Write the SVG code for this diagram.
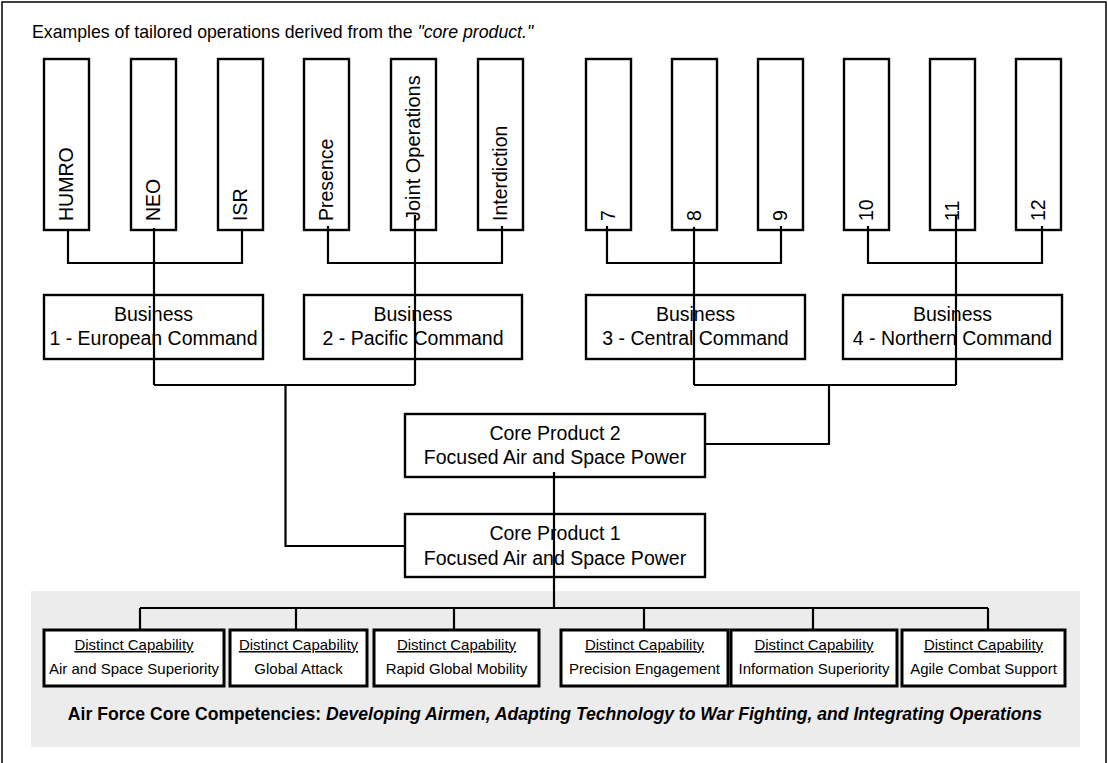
<svg xmlns="http://www.w3.org/2000/svg" width="1108" height="763" viewBox="0 0 1108 763">
<style>
text{font-family:"Liberation Sans",Arial,sans-serif;fill:#000}
.big{font-size:19.5px}
.mid{text-anchor:middle}
.cap{font-size:15px;text-anchor:middle}
.tall{fill:#fff;stroke:#000;stroke-width:2.4}
.box{fill:#fff;stroke:#000;stroke-width:2.4}
.cbox{fill:#fff;stroke:#000;stroke-width:3}
.conn{fill:none;stroke:#000;stroke-width:2.2}
</style>
<rect x="2" y="2" width="1104" height="775" fill="#fff" stroke="#000" stroke-width="1.5"/>
<rect x="31" y="591" width="1049" height="156" fill="#ececec"/>
<text x="32" y="37.5" font-size="17.7">Examples of tailored operations derived from the <tspan font-style="italic">"core product."</tspan></text>

<g id="op-humro"><rect class="tall" x="44" y="59" width="45" height="171"/><text class="big" transform="translate(72.5,221) rotate(-90)">HUMRO</text></g>
<g id="op-neo"><rect class="tall" x="131" y="59" width="45" height="171"/><text class="big" transform="translate(159.5,221) rotate(-90)">NEO</text></g>
<g id="op-isr"><rect class="tall" x="218" y="59" width="45" height="171"/><text class="big" transform="translate(246.5,221) rotate(-90)">ISR</text></g>
<g id="op-presence"><rect class="tall" x="304" y="59" width="45" height="171"/><text class="big" transform="translate(332.5,221) rotate(-90)">Presence</text></g>
<g id="op-joint"><rect class="tall" x="391" y="59" width="45" height="171"/><text class="big" transform="translate(419.5,221) rotate(-90)" style="font-size:20px">Joint Operations</text></g>
<g id="op-interdiction"><rect class="tall" x="478" y="59" width="45" height="171"/><text class="big" transform="translate(506.5,221) rotate(-90)">Interdiction</text></g>
<g id="op-7"><rect class="tall" x="586" y="59" width="45" height="171"/><text class="big" transform="translate(614.5,221) rotate(-90)">7</text></g>
<g id="op-8"><rect class="tall" x="672" y="59" width="45" height="171"/><text class="big" transform="translate(700.5,221) rotate(-90)">8</text></g>
<g id="op-9"><rect class="tall" x="758" y="59" width="45" height="171"/><text class="big" transform="translate(786.5,221) rotate(-90)">9</text></g>
<g id="op-10"><rect class="tall" x="844" y="59" width="45" height="171"/><text class="big" transform="translate(872.5,221) rotate(-90)">10</text></g>
<g id="op-11"><rect class="tall" x="930" y="59" width="45" height="171"/><text class="big" transform="translate(958.5,221) rotate(-90)">11</text></g>
<g id="op-12"><rect class="tall" x="1016" y="59" width="45" height="171"/><text class="big" transform="translate(1044.5,221) rotate(-90)">12</text></g>

<g id="business-1"><rect class="box" x="44" y="295" width="219" height="64"/><text class="big mid" x="153.5" y="320.5">Business</text><text class="big mid" x="153.5" y="345">1 - European Command</text></g>
<g id="business-2"><rect class="box" x="304" y="295" width="218" height="64"/><text class="big mid" x="413" y="320.5">Business</text><text class="big mid" x="413" y="345">2 - Pacific Command</text></g>
<g id="business-3"><rect class="box" x="586" y="295" width="219" height="64"/><text class="big mid" x="695.5" y="320.5">Business</text><text class="big mid" x="695.5" y="345">3 - Central Command</text></g>
<g id="business-4"><rect class="box" x="843" y="295" width="219" height="64"/><text class="big mid" x="952.5" y="320.5">Business</text><text class="big mid" x="952.5" y="345">4 - Northern Command</text></g>

<g id="core-product-2"><rect class="box" x="405" y="414" width="300" height="63"/><text class="big mid" x="555" y="439.5">Core Product 2</text><text class="big mid" x="555" y="463.5">Focused Air and Space Power</text></g>
<g id="core-product-1"><rect class="box" x="405" y="514" width="300" height="63"/><text class="big mid" x="555" y="540">Core Product 1</text><text class="big mid" x="555" y="564.5">Focused Air and Space Power</text></g>

<g id="cap-1"><rect class="cbox" x="44" y="630" width="180" height="56"/><text class="cap" x="134" y="650" text-decoration="underline">Distinct Capability</text><text class="cap" x="134" y="673.5">Air and Space Superiority</text></g>
<g id="cap-2"><rect class="cbox" x="230" y="630" width="137" height="56"/><text class="cap" x="298.5" y="650" text-decoration="underline">Distinct Capability</text><text class="cap" x="298.5" y="673.5">Global Attack</text></g>
<g id="cap-3"><rect class="cbox" x="374" y="630" width="165" height="56"/><text class="cap" x="456.5" y="650" text-decoration="underline">Distinct Capability</text><text class="cap" x="456.5" y="673.5">Rapid Global Mobility</text></g>
<g id="cap-4"><rect class="cbox" x="561" y="630" width="167" height="56"/><text class="cap" x="644.5" y="650" text-decoration="underline">Distinct Capability</text><text class="cap" x="644.5" y="673.5">Precision Engagement</text></g>
<g id="cap-5"><rect class="cbox" x="731" y="630" width="166" height="56"/><text class="cap" x="814" y="650" text-decoration="underline">Distinct Capability</text><text class="cap" x="814" y="673.5">Information Superiority</text></g>
<g id="cap-6"><rect class="cbox" x="902" y="630" width="163" height="56"/><text class="cap" x="983.5" y="650" text-decoration="underline">Distinct Capability</text><text class="cap" x="983.5" y="673.5">Agile Combat Support</text></g>

<text x="555" y="720" font-size="17.6" font-weight="bold" text-anchor="middle">Air Force Core Competencies: <tspan font-style="italic">Developing Airmen, Adapting Technology to War Fighting, and Integrating Operations</tspan></text>

<g id="connectors" class="conn">
<path class="conn" d="M68 230V263H242V230M154 228V385M328 226V263H502V226M415 215V385M154 385H415M285.5 385V546H405"/>
<path class="conn" d="M607 226V263H781V226M694 227V385M868 226V263H1042V226M956 215V385M694 385H956M829 385V444H705"/>
<path class="conn" d="M554 472V608M140 608H988M140 608V630M296 608V630M454 608V630M644 608V630M813 608V630M988 608V630"/>
</g>
</svg>
